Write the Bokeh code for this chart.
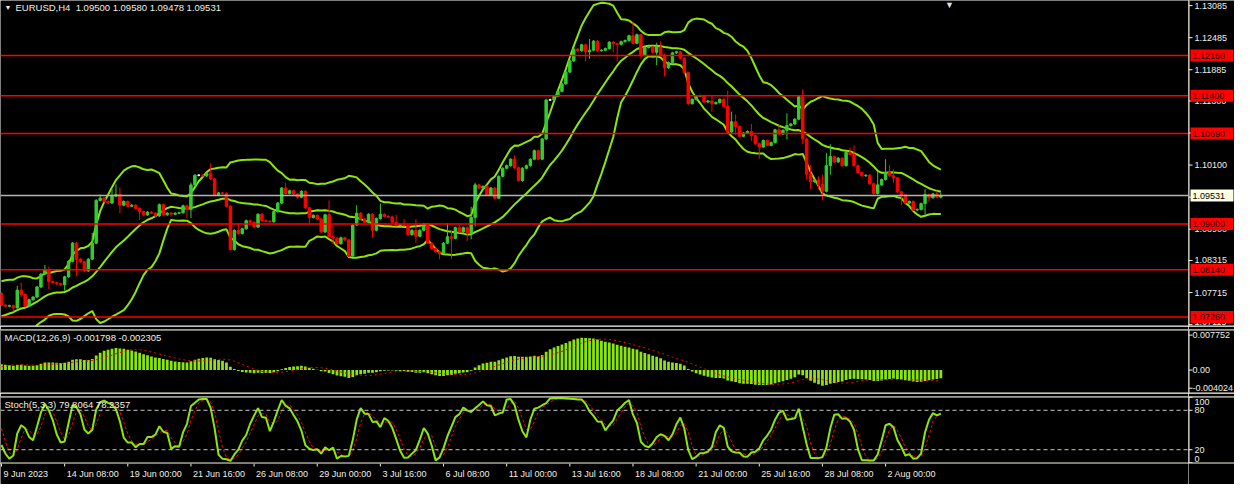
import numpy as np
import pandas as pd
from bokeh.plotting import figure
from bokeh.layouts import column, row
from bokeh.models import Range1d, Span, Label
from bokeh.core.properties import value
from bokeh.embed import file_html
from bokeh.resources import INLINE

# ---- data (EURUSD H4) ----
header = "EURUSD,H4\u00a0 1.09500 1.09580 1.09478 1.09531"
macd_title = "MACD(12,26,9) -0.001798 -0.002305"
stoch_title = "Stoch(5,3,3) 79.8064 78.2357"

# closes before the first visible bar, only used to warm up the indicators
warmup_closes = [
    1.0760, 1.0745, 1.0720, 1.0705, 1.0712, 1.0708,
    1.0705, 1.0712, 1.0700, 1.0690, 1.0712, 1.0710,
    1.0705, 1.0690, 1.0680, 1.0700, 1.0695, 1.0692,
    1.0700, 1.0705, 1.0715, 1.0695, 1.0688, 1.0698,
    1.0705, 1.0712, 1.0720, 1.0745, 1.0765, 1.0780,
    1.0785, 1.0768, 1.0760, 1.0770,
]

closes = [
    1.0748, 1.0746, 1.0747, 1.0743, 1.0776, 1.0768, 1.0746, 1.0758, 1.0763, 1.0782,
    1.0806, 1.0814, 1.0792, 1.0790, 1.0788, 1.0786, 1.0801, 1.0830, 1.0864, 1.0834,
    1.0829, 1.0812, 1.0834, 1.0864, 1.0944, 1.0948, 1.0942, 1.0939, 1.0952, 1.0955,
    1.0935, 1.0942, 1.0933, 1.0935, 1.0929, 1.0923, 1.0917, 1.0922, 1.0920, 1.0915,
    1.0936, 1.0917, 1.0920, 1.0918, 1.0920, 1.0921, 1.0934, 1.0927, 1.0973, 1.0991,
    1.0991, 1.0990, 1.0994, 1.0984, 1.0955, 1.0958, 1.0957, 1.0933, 1.0852, 1.0888,
    1.0882, 1.0891, 1.0906, 1.0903, 1.0894, 1.0918, 1.0906, 1.0905, 1.0904, 1.0923,
    1.0939, 1.0967, 1.0957, 1.0962, 1.0956, 1.0950, 1.0961, 1.0930, 1.0912, 1.0916,
    1.0909, 1.0885, 1.0917, 1.0876, 1.0873, 1.0863, 1.0874, 1.0870, 1.0840, 1.0898,
    1.0920, 1.0909, 1.0903, 1.0918, 1.0888, 1.0910, 1.0918, 1.0914, 1.0913, 1.0903,
    1.0897, 1.0898, 1.0897, 1.0880, 1.0888, 1.0877, 1.0888, 1.0900, 1.0864, 1.0854,
    1.0848, 1.0845, 1.0864, 1.0876, 1.0873, 1.0893, 1.0885, 1.0893, 1.0882, 1.0912,
    1.0973, 1.0967, 1.0970, 1.0954, 1.0967, 1.0948, 1.0989, 1.1004, 1.1009, 1.1021,
    1.1005, 1.0981, 1.1004, 1.1009, 1.1021, 1.1037, 1.1021, 1.1059, 1.1132, 1.1132,
    1.1139, 1.1148, 1.1162, 1.1184, 1.1205, 1.1227, 1.1224, 1.1235, 1.1222, 1.1225,
    1.1242, 1.1224, 1.1225, 1.1228, 1.1240, 1.1237, 1.1236, 1.1241, 1.1243, 1.1252,
    1.1238, 1.1254, 1.1215, 1.1230, 1.1231, 1.1221, 1.1231, 1.1216, 1.1192, 1.1202,
    1.1220, 1.1222, 1.1210, 1.1183, 1.1125, 1.1133, 1.1139, 1.1140, 1.1128, 1.1130,
    1.1125, 1.1127, 1.1133, 1.1120, 1.1072, 1.1091, 1.1082, 1.1064, 1.1070, 1.1073,
    1.1065, 1.1050, 1.1044, 1.1056, 1.1047, 1.1052, 1.1076, 1.1068, 1.1075, 1.1084,
    1.1087, 1.1096, 1.1138, 1.1059, 1.0993, 1.0979, 1.0982, 1.0974, 1.0961, 1.1009,
    1.1026, 1.1016, 1.1023, 1.1009, 1.1034, 1.1030, 1.1009, 1.0996, 1.0990, 1.0991,
    1.0975, 1.0957, 1.0973, 1.0983, 1.0996, 1.0990, 1.0986, 1.0960, 1.0954, 1.0939,
    1.0942, 1.0926, 1.0927, 1.0938, 1.0955, 1.0949, 1.0956, 1.0950, 1.09531,
]

# long wicks (bar index -> price)
wick_highs = {
    4: 1.0784, 5: 1.0790, 11: 1.0823, 12: 1.0820, 23: 1.0883, 25: 1.0955, 28: 1.0965,
    29: 1.0974, 30: 1.0968, 48: 1.0977, 53: 1.1013, 60: 1.0901, 72: 1.0977, 83: 1.0944,
    84: 1.0898, 90: 1.0935, 96: 1.0938, 100: 1.0917, 102: 1.0909, 105: 1.0909,
    113: 1.0901, 114: 1.0888, 116: 1.0898, 119: 1.0932, 120: 1.0977, 130: 1.1028,
    149: 1.1246, 160: 1.1278, 162: 1.1246, 166: 1.1239, 167: 1.1242, 180: 1.1140,
    184: 1.1149, 185: 1.1110, 186: 1.1105, 190: 1.1087, 194: 1.1058, 197: 1.1085,
    199: 1.1107, 203: 1.1152, 205: 1.1010, 207: 1.0989, 208: 1.0992, 209: 1.1033,
    210: 1.1049, 215: 1.1043, 216: 1.1047, 222: 1.0998, 224: 1.1021, 225: 1.1010,
    226: 1.1002, 234: 1.0965, 237: 1.0962, 238: 1.09580,
}
wick_lows = {
    3: 1.0736, 5: 1.0763, 7: 1.0745, 12: 1.0778, 16: 1.0775, 19: 1.0802, 30: 1.0920,
    35: 1.0907, 47: 1.0911, 48: 1.0911, 58: 1.0850, 78: 1.0899, 84: 1.0862, 94: 1.0874,
    105: 1.0865, 111: 1.0834, 114: 1.0834, 118: 1.0868, 119: 1.0871, 120: 1.0895,
    148: 1.1204, 149: 1.1209, 155: 1.1221, 156: 1.1204, 162: 1.1209, 166: 1.1197,
    168: 1.1176, 180: 1.1110, 186: 1.1067, 190: 1.1055, 192: 1.1022, 199: 1.1058,
    203: 1.1049, 204: 1.0983, 205: 1.0965, 207: 1.0965, 208: 1.0944, 210: 1.0992,
    226: 1.0977, 228: 1.0935, 234: 1.0917, 235: 1.0941, 238: 1.09478,
}

red_levels = [1.12150, 1.11400, 1.10690, 1.09000, 1.08140, 1.07260]
price_ticks = [1.13085, 1.12485, 1.11885, 1.11300, 1.10700, 1.10100, 1.09500,
               1.08900, 1.08315, 1.07715, 1.07115]
macd_ticks = [0.007752, 0.0, -0.004024]
macd_tick_labels = ["0.007752", "0.00", "-0.004024"]
stoch_ticks = [0, 20, 80, 100]
stoch_levels = [20, 80]
time_ticks = [0, 16, 32, 48, 64, 80, 96, 112, 128, 144, 160, 176, 192, 208, 224]
time_labels = ["9 Jun 2023", "14 Jun 08:00", "19 Jun 00:00", "21 Jun 16:00",
               "26 Jun 08:00", "29 Jun 00:00", "3 Jul 16:00", "6 Jul 08:00",
               "11 Jul 00:00", "13 Jul 16:00", "18 Jul 08:00", "21 Jul 00:00",
               "25 Jul 16:00", "28 Jul 08:00", "2 Aug 00:00"]

# ---- series ----
w = len(warmup_closes)
n = len(closes)
c_all = pd.Series(warmup_closes + closes, dtype=float)
o_all = c_all.shift(1).fillna(c_all.iloc[0])
tick = 0.0002
h_all = np.maximum(o_all, c_all) + tick
l_all = np.minimum(o_all, c_all) - tick
for i, v in wick_highs.items():
    h_all[w + i] = max(v, o_all[w + i], c_all[w + i])
for i, v in wick_lows.items():
    l_all[w + i] = min(v, o_all[w + i], c_all[w + i])

mid = c_all.rolling(20).mean()
sd = c_all.rolling(20).std(ddof=0)
upper, lower = mid + 2 * sd, mid - 2 * sd

macd = c_all.ewm(span=12, adjust=False).mean() - c_all.ewm(span=26, adjust=False).mean()
signal = macd.rolling(9).mean()

ll = l_all.rolling(5).min()
hh = h_all.rolling(5).max()
k = 100 * (c_all - ll).rolling(3).sum() / (hh - ll).rolling(3).sum()
d = k.rolling(3).mean()

x = np.arange(n)
sl = slice(w, w + n)
o, c, hi, lo = o_all[sl].values, c_all[sl].values, h_all[sl].values, l_all[sl].values

BULL, BEAR, DOJI = "#32cd32", "#ff0000", "#ffffff"
IND = "#8ce60a"
FRAME = "#f2f2dc"
TXT = "#f0f0e0"
FONT = "Liberation Sans"
PLOT_W, AXIS_W = 1188, 46

colors = [BULL if cc > oo else (BEAR if cc < oo else DOJI) for oo, cc in zip(o, c)]

xr = Range1d(-0.25, 300.75)


def plot_fig(fh, top, yr, top_line=True):
    f = figure(frame_width=PLOT_W, frame_height=fh, x_range=xr, y_range=yr,
               x_axis_location=None, y_axis_location=None,
               toolbar_location=None, output_backend="svg",
               min_border_left=0, min_border_right=0,
               min_border_top=top, min_border_bottom=0,
               background_fill_color="black", border_fill_color="black",
               outline_line_color=None)
    f.grid.visible = False
    # frame lines (half of a 2px line falls inside the frame)
    f.add_layout(Span(location=yr.start, dimension="width", line_color=FRAME, line_width=2))
    if top_line:
        f.add_layout(Span(location=yr.end, dimension="width", line_color=FRAME, line_width=2))
    return f


def axis_fig(fh, top, yr, ticks, labels, label_x=6, top_line=True):
    f = figure(frame_width=AXIS_W, frame_height=fh, x_range=Range1d(0, AXIS_W), y_range=yr,
               x_axis_location=None, y_axis_location=None,
               toolbar_location=None, output_backend="svg",
               min_border_left=0, min_border_right=0,
               min_border_top=top, min_border_bottom=0,
               background_fill_color="black", border_fill_color="black",
               outline_line_color=None)
    f.grid.visible = False
    f.add_layout(Span(location=0, dimension="height", line_color=FRAME, line_width=2))
    f.add_layout(Span(location=yr.start, dimension="width", line_color=FRAME, line_width=2))
    if top_line:
        f.add_layout(Span(location=yr.end, dimension="width", line_color=FRAME, line_width=2))
    px = (yr.end - yr.start) / fh
    offs = [max(0.0, 5 - (t - yr.start) / px) - max(0.0, 5 - (yr.end - t) / px) for t in ticks]
    f.segment(x0=0, y0=ticks, x1=4, y1=ticks, line_color=FRAME, line_width=1)
    f.text(x=label_x, y=ticks, text=labels, y_offset=[-v for v in offs], text_baseline="middle",
           text_align="left", text_font=value(FONT), text_font_size="9px", text_color=TXT)
    return f


# ---- main price panel ----
yr_main = Range1d(1.0708, 1.1318)
p = plot_fig(326, 0, yr_main, top_line=False)

for lvl in red_levels:
    p.add_layout(Span(location=lvl, dimension="width", line_color="#ff0000", line_width=1.5))
p.add_layout(Span(location=closes[-1], dimension="width", line_color="#b4b4b4", line_width=1.3))

p.line(x, upper[sl].values, line_color=IND, line_width=2)
p.line(x, mid[sl].values, line_color=IND, line_width=2)
p.line(x, lower[sl].values, line_color=IND, line_width=2)

p.segment(x0=x, y0=hi, x1=x, y1=lo, line_color=colors, line_width=1)
p.vbar(x=x, width=0.62, top=np.maximum(o, c), bottom=np.minimum(o, c),
       fill_color=colors, line_color=colors, line_width=1)

p.add_layout(Label(x=xr.start, y=yr_main.end, x_offset=4, y_offset=-7, text="\u25bc",
                   text_baseline="middle", text_font=FONT, text_font_size="7px",
                   text_color=TXT))
p.add_layout(Label(x=xr.start, y=yr_main.end, x_offset=15, y_offset=-7, text=header,
                   text_baseline="middle", text_font=FONT, text_font_size="9.5px",
                   text_color=TXT))
p.add_layout(Label(x=n + 1.2, y=yr_main.end, y_offset=1, text="\u25bc",
                   text_baseline="top", text_align="center", text_font=FONT,
                   text_font_size="9px", text_color="#dcdcdc"))

pa = axis_fig(326, 0, yr_main, price_ticks, [f"{t:.5f}" for t in price_ticks], top_line=False)
pa.rect(x=AXIS_W / 2 + 0.5, y=red_levels, width=AXIS_W - 3, height=12, height_units="screen",
        fill_color="#ff0000", line_color=None)
pa.text(x=4, y=red_levels, text=[f"{v:.5f}" for v in red_levels], text_baseline="middle",
        text_align="left", text_font=value(FONT), text_font_size="9px", text_color="#1a0000")
pa.rect(x=AXIS_W / 2 + 0.5, y=[closes[-1]], width=AXIS_W - 3, height=12, height_units="screen",
        fill_color="#ffffe6", line_color=None)
pa.text(x=4, y=[closes[-1]], text=[f"{closes[-1]:.5f}"], text_baseline="middle",
        text_align="left", text_font=value(FONT), text_font_size="9px", text_color="black")

# ---- MACD panel ----
yr_macd = Range1d(-0.0052, 0.0090)
m = plot_fig(64, 3, yr_macd)
m.vbar(x, width=0.7, top=macd[sl].values, bottom=0, fill_color=IND, line_color=None)
m.line(x, signal[sl].values, line_color="#ff0000", line_width=1, line_dash="2 3")
m.add_layout(Label(x=xr.start, y=yr_macd.end, x_offset=4, y_offset=-8, text=macd_title,
                   text_baseline="middle", text_font=FONT, text_font_size="9.5px",
                   text_color=TXT))
ma = axis_fig(64, 3, yr_macd, macd_ticks, macd_tick_labels, label_x=4)

# ---- Stochastic panel ----
yr_st = Range1d(-1, 101)
s = plot_fig(67, 3, yr_st)
for lvl in stoch_levels:
    s.add_layout(Span(location=lvl, dimension="width", line_color="#c8c8c8",
                      line_width=1, line_dash="4 3"))
s.line(x, d[sl].values, line_color="#ff0000", line_width=1, line_dash="3 2")
s.line(x, k[sl].values, line_color=IND, line_width=2)
s.add_layout(Label(x=xr.start, y=yr_st.end, x_offset=4, y_offset=-8, text=stoch_title,
                   text_baseline="middle", text_font=FONT, text_font_size="9.5px",
                   text_color=TXT))
sa = axis_fig(67, 3, yr_st, stoch_ticks, [str(t) for t in stoch_ticks])

# ---- time axis strip ----
TH = 21
t = figure(frame_width=PLOT_W, frame_height=TH, x_range=xr, y_range=Range1d(0, TH),
           x_axis_location=None, y_axis_location=None, toolbar_location=None,
           output_backend="svg", min_border=0, background_fill_color="black",
           border_fill_color="black", outline_line_color=None)
t.grid.visible = False
t.segment(x0=time_ticks, y0=TH, x1=time_ticks, y1=TH - 3, line_color=FRAME, line_width=1)
t.text(x=time_ticks, y=TH - 5, text=time_labels, x_offset=2, text_baseline="top",
       text_align="left", text_font=value(FONT), text_font_size="9px", text_color=TXT)
corner = figure(frame_width=AXIS_W, frame_height=TH, x_axis_location=None, y_axis_location=None,
                toolbar_location=None, output_backend="svg", min_border=0,
                background_fill_color="black", border_fill_color="black",
                outline_line_color=None)
corner.grid.visible = False

layout = column(row(p, pa, spacing=0), row(m, ma, spacing=0), row(s, sa, spacing=0),
                row(t, corner, spacing=0), spacing=0)
open("out.html", "w").write(file_html(layout, INLINE))
